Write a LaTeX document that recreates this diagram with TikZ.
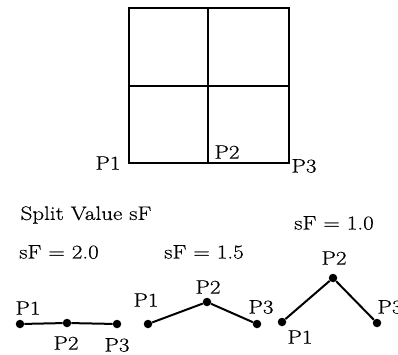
\documentclass[tikz,border=0pt]{standalone}
\usepackage{fontspec}
\setmainfont{Latin Modern Roman}[FakeStretch=1.18, FakeBold=0.6]
\usepackage{tikz}
\usetikzlibrary{positioning}

\begin{document}
\begin{tikzpicture}[
    x=1pt, y=-1pt,
    lbl/.style={inner sep=0pt, font=\fontsize{19.5}{22}\selectfont},
    pt/.style={circle, fill, inner sep=0pt, minimum size=8.5pt},
    seg/.style={line width=2pt},
    cell/.style={line width=1.8pt}
]
\useasboundingbox (0,0) rectangle (398,355);
% split cell
\draw[cell] (129,8) rectangle (289,163);
\draw[cell] (208,8) -- (208,163) (129,86) -- (289,86);
\node[lbl] (g1) at (108,163) {P1};
\node[lbl] (g2) at (227,152) {P2};
\node[lbl] (g3) at (304,166) {P3};

\node[lbl] (title) at (86,215) {Split Value sF};
\node[lbl] (sfa) at (59,252) {sF = 2.0};
\node[lbl] (sfb) at (204,252) {sF = 1.5};
\node[lbl] (sfc) at (334,223) {sF = 1.0};

% sF = 2.0
\node[pt] (a1) at (20,324) {};
\node[pt] (a2) at (67,323) {};
\node[pt] (a3) at (117,324) {};
\draw[seg] (a1) -- (a2) -- (a3);
\node[lbl] at (28,308) {P1};
\node[lbl] at (66,343) {P2};
\node[lbl] at (117,345) {P3};

% sF = 1.5
\node[pt] (b1) at (148,324) {};
\node[pt] (b2) at (207,302) {};
\node[pt] (b3) at (257,324) {};
\draw[seg] (b1) -- (b2) -- (b3);
\node[lbl] at (146,300) {P1};
\node[lbl] at (208,287) {P2};
\node[lbl] at (261,307) {P3};

% sF = 1.0
\node[pt] (c1) at (282,322) {};
\node[pt] (c2) at (333,278) {};
\node[pt] (c3) at (377,323) {};
\draw[seg] (c1) -- (c2) -- (c3);
\node[lbl] at (300,337) {P1};
\node[lbl] at (334,258) {P2};
\node[lbl] at (390,307) {P3};
\end{tikzpicture}
\end{document}
